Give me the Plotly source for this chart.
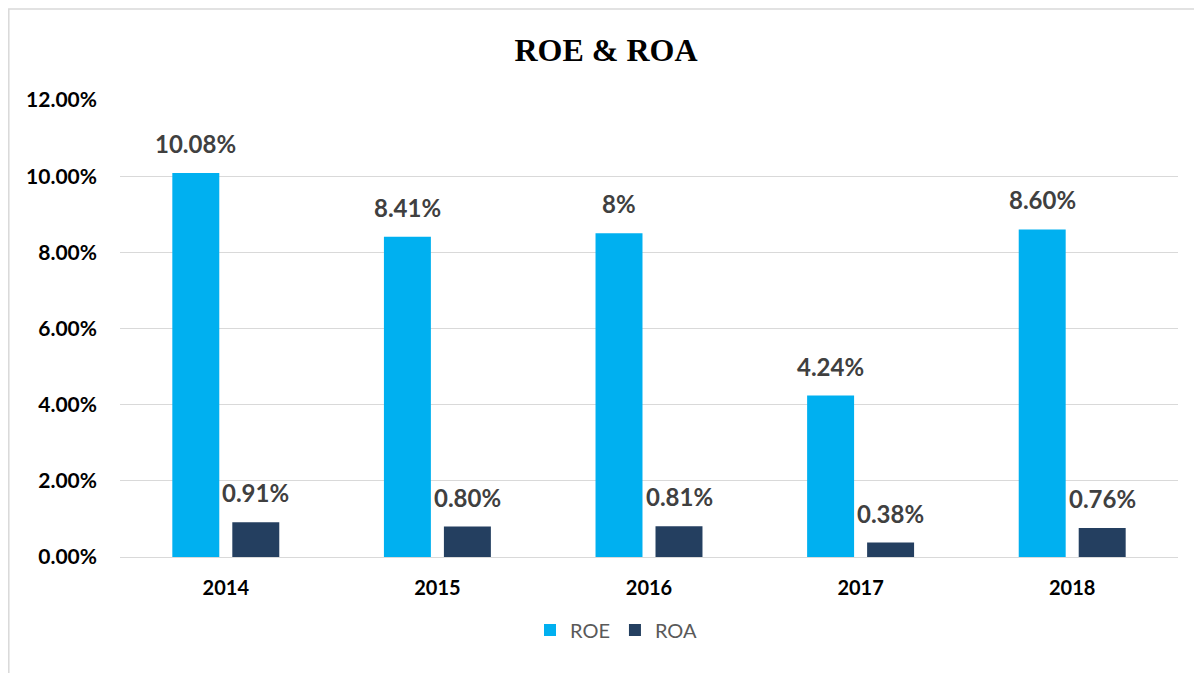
import plotly.graph_objects as go

years = ["2014", "2015", "2016", "2017", "2018"]
roe = [10.08, 8.41, 8.50, 4.24, 8.60]
roa = [0.91, 0.80, 0.81, 0.38, 0.76]
roe_labels = ["10.08%", "8.41%", "8%", "4.24%", "8.60%"]
roa_labels = ["0.91%", "0.80%", "0.81%", "0.38%", "0.76%"]
y_ticks = [0, 2, 4, 6, 8, 10, 12]
y_tick_text = ["0.00%", "2.00%", "4.00%", "6.00%", "8.00%", "10.00%", "12.00%"]

ROE_COLOR = "#00B0F0"
ROA_COLOR = "#243F60"

fig = go.Figure()
fig.add_trace(go.Bar(x=years, y=roe, name="ROE", marker=dict(color=ROE_COLOR, line=dict(width=0))))
fig.add_trace(go.Bar(x=years, y=roa, name="ROA", marker=dict(color=ROA_COLOR, line=dict(width=0))))

label_font = dict(family="Lato, Open Sans, sans-serif", size=24, color="#404040", weight="bold")
for i, (v, t) in enumerate(zip(roe, roe_labels)):
    fig.add_annotation(x=i, y=v, text=t, showarrow=False, xshift=-30, yshift=13,
                       yanchor="bottom", font=label_font)
for i, (v, t) in enumerate(zip(roa, roa_labels)):
    fig.add_annotation(x=i, y=v, text=t, showarrow=False, xshift=30, yshift=13,
                       yanchor="bottom", font=label_font)

# page has an 8px body margin; figure coordinates below are page coords minus 8
W, H = 1194, 665
L, T = 112, 92
pw, ph = 1058, 457
R, B = W - L - pw, H - T - ph

fig.add_shape(type="rect", xref="paper", yref="paper",
              x0=(0.8 - L) / pw, x1=(W + 10 - L) / pw,
              y0=(T + ph - H - 10) / ph, y1=1 + (T - 1) / ph,
              line=dict(color="#D9D9D9", width=1.5), fillcolor="rgba(0,0,0,0)", layer="below")

fig.update_layout(
    width=W, height=H,
    margin=dict(l=L, r=R, t=T, b=B),
    paper_bgcolor="white", plot_bgcolor="white",
    barmode="group", bargap=0.433, bargroupgap=0.217,
    title=dict(text="ROE & ROA", x=598 / W, xref="container", xanchor="center",
               y=1 - 42 / H, yref="container", yanchor="middle",
               font=dict(family="Liberation Serif, Times New Roman, serif", size=32, color="black", weight="bold")),
    xaxis=dict(type="category", range=[-0.5, 4.5], showgrid=False, showline=False, ticks="", ticklabelstandoff=17,
               tickfont=dict(family="Lato, Open Sans, sans-serif", size=20, color="black", weight="bold")),
    yaxis=dict(range=[0, 12], tickvals=y_ticks, ticktext=y_tick_text,
               showgrid=True, gridcolor="#D9D9D9", gridwidth=1,
               zeroline=True, zerolinecolor="#D9D9D9", zerolinewidth=1,
               showline=False, ticks="", ticklabelstandoff=22,
               tickfont=dict(family="Lato, Open Sans, sans-serif", size=21, color="black", weight="bold")),
    legend=dict(orientation="h", x=(616 - 8 - L) / pw, xanchor="center", y=(T + ph - 622) / ph, yanchor="middle",
                font=dict(family="Lato, Open Sans, sans-serif", size=20, color="#595959"),
                itemwidth=30, traceorder="normal"),
    showlegend=True,
)

fig.write_html("out.html")
